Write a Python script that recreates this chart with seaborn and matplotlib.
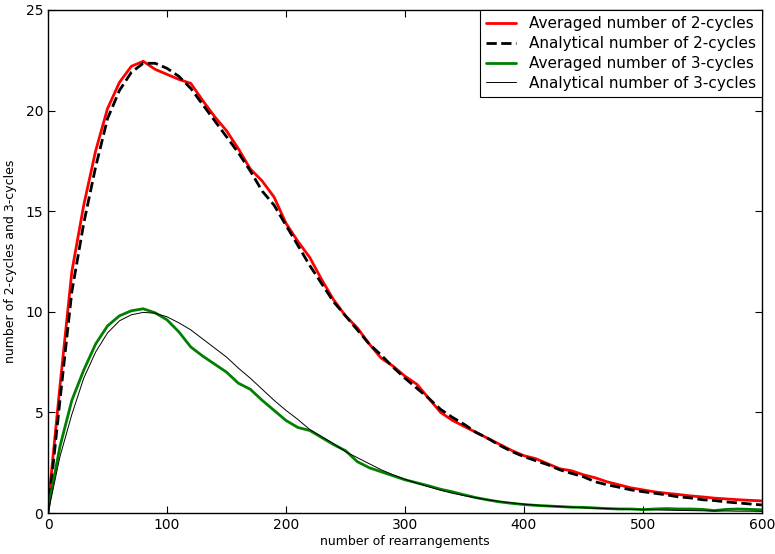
import numpy as np
import pandas as pd
import seaborn as sns
import matplotlib.pyplot as plt

# values, every 10 rearrangements
steps = list(range(0, 601, 10))

avg_2cycles = [0.3, 6.3, 12.0, 15.3, 18.0, 20.1, 21.4, 22.2, 22.45, 22.05,
               21.8, 21.55, 21.35, 20.5, 19.7, 19.0, 18.1, 17.1, 16.5, 15.7,
               14.4, 13.5, 12.7, 11.6, 10.6, 9.8, 9.2, 8.4, 7.7, 7.3,
               6.8, 6.4, 5.7, 5.0, 4.6, 4.3, 4.0, 3.7, 3.4, 3.1,
               2.85, 2.7, 2.45, 2.2, 2.1, 1.9, 1.75, 1.55, 1.4, 1.25,
               1.15, 1.05, 0.98, 0.92, 0.85, 0.8, 0.74, 0.7, 0.66, 0.63, 0.6]

ana_2cycles = [0.0, 5.6, 11.0, 14.4, 17.2, 19.6, 21.0, 21.9, 22.35, 22.35,
               22.1, 21.7, 21.1, 20.3, 19.5, 18.7, 17.9, 17.0, 16.0, 15.3,
               14.3, 13.3, 12.3, 11.4, 10.5, 9.8, 9.1, 8.4, 7.85, 7.25,
               6.7, 6.2, 5.7, 5.15, 4.75, 4.4, 4.0, 3.7, 3.35, 3.05,
               2.8, 2.6, 2.4, 2.15, 1.97, 1.8, 1.55, 1.4, 1.28, 1.15,
               1.06, 0.98, 0.9, 0.8, 0.75, 0.66, 0.62, 0.55, 0.5, 0.45, 0.4]

avg_3cycles = [0.2, 3.3, 5.6, 7.1, 8.4, 9.3, 9.8, 10.05, 10.15, 9.95,
               9.6, 9.0, 8.25, 7.8, 7.4, 7.0, 6.45, 6.15, 5.6, 5.1,
               4.6, 4.25, 4.1, 3.75, 3.4, 3.1, 2.55, 2.25, 2.05, 1.85,
               1.65, 1.5, 1.35, 1.18, 1.05, 0.9, 0.76, 0.65, 0.55, 0.48,
               0.42, 0.38, 0.35, 0.32, 0.29, 0.28, 0.25, 0.22, 0.2, 0.2,
               0.17, 0.2, 0.22, 0.2, 0.2, 0.18, 0.12, 0.18, 0.2, 0.18, 0.16]

ana_3cycles = [0.0, 2.8, 4.9, 6.7, 8.0, 8.95, 9.55, 9.85, 9.97, 9.93,
               9.75, 9.45, 9.1, 8.65, 8.2, 7.75, 7.2, 6.7, 6.15, 5.6,
               5.1, 4.65, 4.15, 3.8, 3.45, 3.05, 2.75, 2.45, 2.15, 1.9,
               1.68, 1.48, 1.3, 1.13, 0.98, 0.86, 0.75, 0.65, 0.57, 0.5,
               0.44, 0.39, 0.35, 0.32, 0.29, 0.26, 0.24, 0.22, 0.2, 0.18,
               0.17, 0.16, 0.14, 0.13, 0.12, 0.11, 0.1, 0.1, 0.09, 0.09, 0.08]

sns.set_style("ticks")
plt.rcParams['font.family'] = ['DejaVu Sans']
plt.rcParams['xtick.direction'] = 'in'
plt.rcParams['ytick.direction'] = 'in'
plt.rcParams['xtick.top'] = True
plt.rcParams['ytick.right'] = True
plt.rcParams['text.color'] = 'black'
plt.rcParams['axes.labelcolor'] = 'black'
plt.rcParams['xtick.color'] = 'black'
plt.rcParams['ytick.color'] = 'black'

fig = plt.figure(figsize=(7.75, 5.54), dpi=100)
ax = fig.add_axes([0.062, 0.074, 0.921, 0.908])

series = [
    ("Averaged number of 2-cycles", avg_2cycles, "#ff0000", 2.0, "-"),
    ("Analytical number of 2-cycles", ana_2cycles, "black", 2.0, "--"),
    ("Averaged number of 3-cycles", avg_3cycles, "#008000", 2.0, "-"),
    ("Analytical number of 3-cycles", ana_3cycles, "black", 0.7, "-"),
]
for name, vals, col, lw, ls in series:
    sns.lineplot(x=steps, y=vals, ax=ax, color=col, linewidth=lw,
                 linestyle=ls, label=name)

ax.set_xlim(0, 600)
ax.set_ylim(0, 25)
ax.set_xticks([0, 100, 200, 300, 400, 500, 600])
ax.set_yticks([0, 5, 10, 15, 20, 25])
ax.tick_params(labelsize=10, length=5, width=0.8)
for s in ax.spines.values():
    s.set_color('black')
    s.set_linewidth(1.0)
ax.set_xlabel("number of rearrangements", fontsize=9, labelpad=2)
ax.set_ylabel("number of 2-cycles and 3-cycles", fontsize=9, labelpad=6)

leg = ax.legend(loc="upper right", fontsize=11, borderaxespad=0,
                fancybox=False, framealpha=1, edgecolor='black',
                handlelength=2.0, labelspacing=0.32)
leg.get_frame().set_linewidth(0.8)

fig.savefig("out.png", dpi=100)
